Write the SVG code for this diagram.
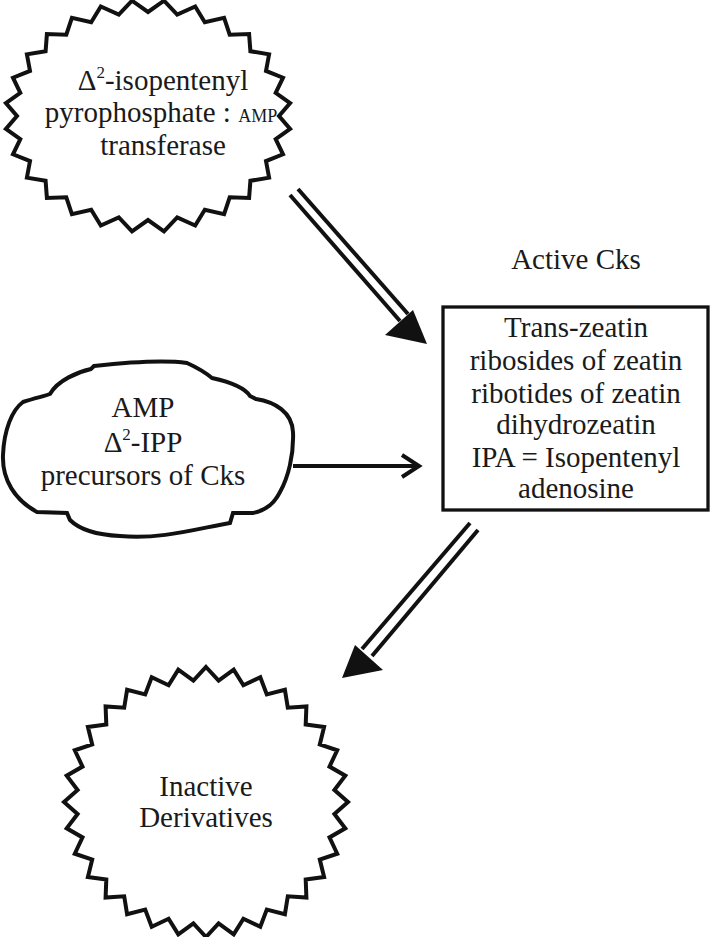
<svg xmlns="http://www.w3.org/2000/svg" width="713" height="937" viewBox="0 0 713 937">
<style>
.t{font-family:"Liberation Serif","Times New Roman",serif;font-size:29px;fill:#1a1a1a;text-anchor:middle}
.sh{fill:#fff;stroke:#111;stroke-width:4;stroke-linejoin:miter}
.ln{stroke:#111;stroke-width:4;fill:none}
.hd{fill:#111;stroke:none}
</style>
<rect width="713" height="937" fill="#fff"/>
<g id="enzyme">
<polygon class="sh" points="148,12 164.0,0.7 177.2,14.6 195.2,6.5 204.8,22.3 224.1,17.8 229.7,34.7 249.1,34.0 250.4,51.2 269.1,54.3 266.0,70.9 283.0,77.7 275.7,92.9 290.1,103.0 279,116 290.1,129.0 275.7,139.1 283.0,154.3 266.0,161.1 269.1,177.7 250.4,180.8 249.1,198.0 229.7,197.3 224.1,214.2 204.8,209.7 195.2,225.5 177.2,217.4 164.0,231.3 148,220 132.0,231.3 118.8,217.4 100.8,225.5 91.2,209.7 71.9,214.2 66.3,197.3 46.9,198.0 45.6,180.8 26.9,177.7 30.0,161.1 13.0,154.3 20.3,139.1 5.9,129.0 17,116 5.9,103.0 20.3,92.9 13.0,77.7 30.0,70.9 26.9,54.3 45.6,51.2 46.9,34.0 66.3,34.7 71.9,17.8 91.2,22.3 100.8,6.5 118.8,14.6 132.0,0.7"/>
<text class="t" x="163" y="90">Δ<tspan font-size="17" dy="-12">2</tspan><tspan dy="12">-isopentenyl</tspan></text>
<text class="t" x="161" y="122">pyrophosphate : <tspan font-size="18">AMP</tspan></text>
<text class="t" x="163" y="155">transferase</text>
</g>
<g id="precursors">
<path class="sh" d="M 23,402 C 35,398 45,396 50,394 C 58,380 78,372 91,369 L 94,366 C 130,362 165,360 187,363 C 198,368 206,373 212,378 C 230,382 245,388 250,396 L 256,399 C 275,402 292,412 293,432 C 294,455 288,478 280,492 C 275,502 268,510 253,513 L 233,513 L 230,523 C 200,528 160,540 120,536 C 100,535 80,530 70,520 L 67,513 L 37,512 C 15,500 2,480 3,455 C 4,430 12,410 23,402 Z"/>
<text class="t" x="143" y="417">AMP</text>
<text class="t" x="143" y="452">Δ<tspan font-size="17" dy="-12">2</tspan><tspan dy="12">-IPP</tspan></text>
<text class="t" x="143" y="485">precursors of Cks</text>
</g>
<g id="active">
<text class="t" x="576" y="269">Active Cks</text>
<rect x="443" y="307" width="265" height="203" fill="#fff" stroke="#111" stroke-width="3.3"/>
<text class="t" x="576" y="337">Trans-zeatin</text>
<text class="t" x="576" y="370">ribosides of zeatin</text>
<text class="t" x="576" y="403">ribotides of zeatin</text>
<text class="t" x="576" y="434">dihydrozeatin</text>
<text class="t" x="576" y="467">IPA = Isopentenyl</text>
<text class="t" x="576" y="498">adenosine</text>
</g>
<g id="inactive">
<polygon class="sh" points="206,667 218.6,680.6 233.7,669.6 243.4,685.3 260.3,677.3 266.8,694.4 284.9,689.8 287.8,707.7 306.4,706.5 305.7,724.6 324.1,727.0 319.8,744.5 337.2,750.3 329.5,766.6 345.3,775.7 334.4,790.0 348,802 334.4,814.0 345.3,828.3 329.5,837.4 337.2,853.7 319.8,859.5 324.1,877.0 305.7,879.4 306.4,897.5 287.8,896.3 284.9,914.2 266.8,909.6 260.3,926.7 243.4,918.7 233.7,934.4 218.6,923.4 206,937 193.4,923.4 178.3,934.4 168.6,918.7 151.7,926.7 145.2,909.6 127.1,914.2 124.2,896.3 105.6,897.5 106.3,879.4 87.9,877.0 92.2,859.5 74.8,853.7 82.5,837.4 66.7,828.3 77.6,814.0 64,802 77.6,790.0 66.7,775.7 82.5,766.6 74.8,750.3 92.2,744.5 87.9,727.0 106.3,724.6 105.6,706.5 124.2,707.7 127.1,689.8 145.2,694.4 151.7,677.3 168.6,685.3 178.3,669.6 193.4,680.6"/>
<text class="t" x="206" y="796">Inactive</text>
<text class="t" x="206" y="827">Derivatives</text>
</g>
<g id="connectors">
<line class="ln" x1="290" y1="195" x2="400" y2="321"/>
<line class="ln" x1="298" y1="189" x2="408" y2="314"/>
<polygon class="hd" points="385,335 427,344 413,310"/>
<line class="ln" x1="293" y1="466" x2="418" y2="466"/>
<polyline class="ln" points="402,455 419,466 402,477"/>
<line class="ln" x1="470" y1="523" x2="362" y2="649"/>
<line class="ln" x1="478" y1="530" x2="372" y2="656"/>
<polygon class="hd" points="342,678 383,670 355,645"/>
</g>
</svg>
